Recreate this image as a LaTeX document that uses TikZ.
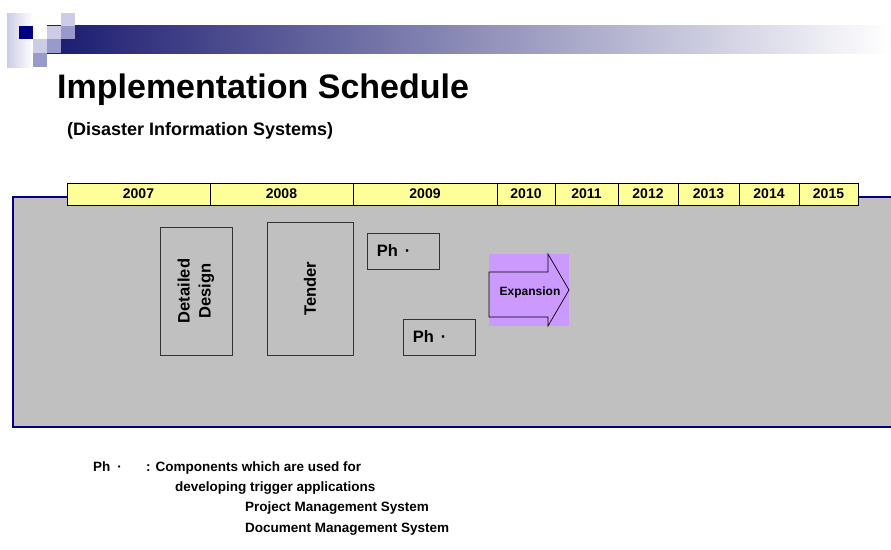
\documentclass[tikz,border=0pt]{standalone}
\usepackage{fontspec}
\setmainfont{Liberation Sans}
\usetikzlibrary{positioning}
\definecolor{navy}{RGB}{0,0,128}
\definecolor{barnavy}{RGB}{26,26,112}
\definecolor{lightlav}{RGB}{204,204,230}
\definecolor{medlav}{RGB}{153,153,204}
\definecolor{panelgray}{RGB}{192,192,192}
\definecolor{yearyellow}{RGB}{255,255,153}
\definecolor{exppurple}{RGB}{204,153,255}
\definecolor{boxline}{RGB}{51,51,51}
\tikzset{
  yearcell/.style={draw=black, line width=0.8pt, fill=yearyellow, minimum height=22, inner sep=0pt, font=\bfseries\fontsize{14}{16}\selectfont},
  phasebox/.style={draw=boxline, line width=0.9pt, inner sep=0pt},
  boxtext/.style={font=\bfseries\fontsize{16.5}{21}\selectfont, inner sep=0pt},
  legendtext/.style={font=\bfseries\fontsize{13.5}{15}\selectfont, anchor=base west, inner sep=0pt},
  panelline/.style={draw=navy, line width=1.2pt}
}
\begin{document}
\begin{tikzpicture}[x=1pt,y=-1pt]
\useasboundingbox[fill=white] (0,0) rectangle (891,549);
% header decoration
\shade[left color=barnavy, right color=white] (47,25) rectangle (891,53);
\shade[left color=lightlav, right color=white] (7,13) rectangle (33,67);
\fill[navy] (19,26) rectangle (33,39);
\fill[lightlav] (33,39) rectangle (47,53);
\fill[medlav] (33,53) rectangle (47,67);
\fill[lightlav] (47,26) rectangle (61,39);
\fill[medlav] (47,39) rectangle (61,53);
\fill[lightlav] (61,13) rectangle (75,26);
\fill[medlav] (61,26) rectangle (75,39);
% titles
\node[anchor=base west, inner sep=0pt, font=\bfseries\fontsize{34}{40}\selectfont] (title) at (57,98) {Implementation Schedule};
\node[anchor=base west, inner sep=0pt, font=\bfseries\fontsize{18}{20}\selectfont] (subtitle) at (67,135) {(Disaster Information Systems)};
% panel
\fill[panelgray] (13,197) rectangle (895,427);
\draw[panelline] (67,197) -- (13,197) -- (13,427) -- (895,427);
\draw[panelline] (858,197) -- (895,197);
% year bar
\node[yearcell, minimum width=143] (y2007) at (138.5,194) {2007};
\node[yearcell, minimum width=143] (y2008) at (281.5,194) {2008};
\node[yearcell, minimum width=144] (y2009) at (425,194) {2009};
\node[yearcell, minimum width=58] (y2010) at (526,194) {2010};
\node[yearcell, minimum width=63] (y2011) at (586.5,194) {2011};
\node[yearcell, minimum width=60] (y2012) at (648,194) {2012};
\node[yearcell, minimum width=61] (y2013) at (708.5,194) {2013};
\node[yearcell, minimum width=60] (y2014) at (769,194) {2014};
\node[yearcell, minimum width=59] (y2015) at (828.5,194) {2015};
% phase boxes
\node[phasebox, minimum width=72, minimum height=128] (dd) at (196,291) {};
\node[boxtext, rotate=90, align=center] (ddtext) at (dd.center) {Detailed\\Design};
\node[phasebox, minimum width=86, minimum height=133] (tender) at (310,288.5) {};
\node[boxtext, rotate=90] (tendertext) at (tender.center) {Tender};
\node[phasebox, minimum width=72, minimum height=36] (ph1) at (403,251) {};
\node[boxtext, anchor=west] (ph1text) at ([xshift=10]ph1.west) {Ph\hspace{7pt}·};
\node[phasebox, minimum width=72, minimum height=36] (ph2) at (439,337) {};
\node[boxtext, anchor=west] (ph2text) at ([xshift=10]ph2.west) {Ph\hspace{7pt}·};
% expansion arrow
\node[fill=exppurple, minimum width=80, minimum height=72, inner sep=0pt] (expbg) at (529,290) {};
\draw[black, line width=0.7pt] (489,272) -- (548,272) -- (548,254) -- (569,290) -- (548,326) -- (548,317) -- (489,317) -- cycle;
\node[font=\bfseries\fontsize{12}{13}\selectfont, inner sep=0pt] (exptext) at (530,292) {Expansion};
% legend
\node[legendtext] (lg1) at (93,471) {Ph\hspace{7pt}·};
\node[legendtext] (lg2) at (146,471) {: Components which are used for};
\node[legendtext] (lg3) at (175,491) {developing trigger applications};
\node[legendtext] (lg4) at (245,511) {Project Management System};
\node[legendtext] (lg5) at (245,532) {Document Management System};
\end{tikzpicture}
\end{document}
